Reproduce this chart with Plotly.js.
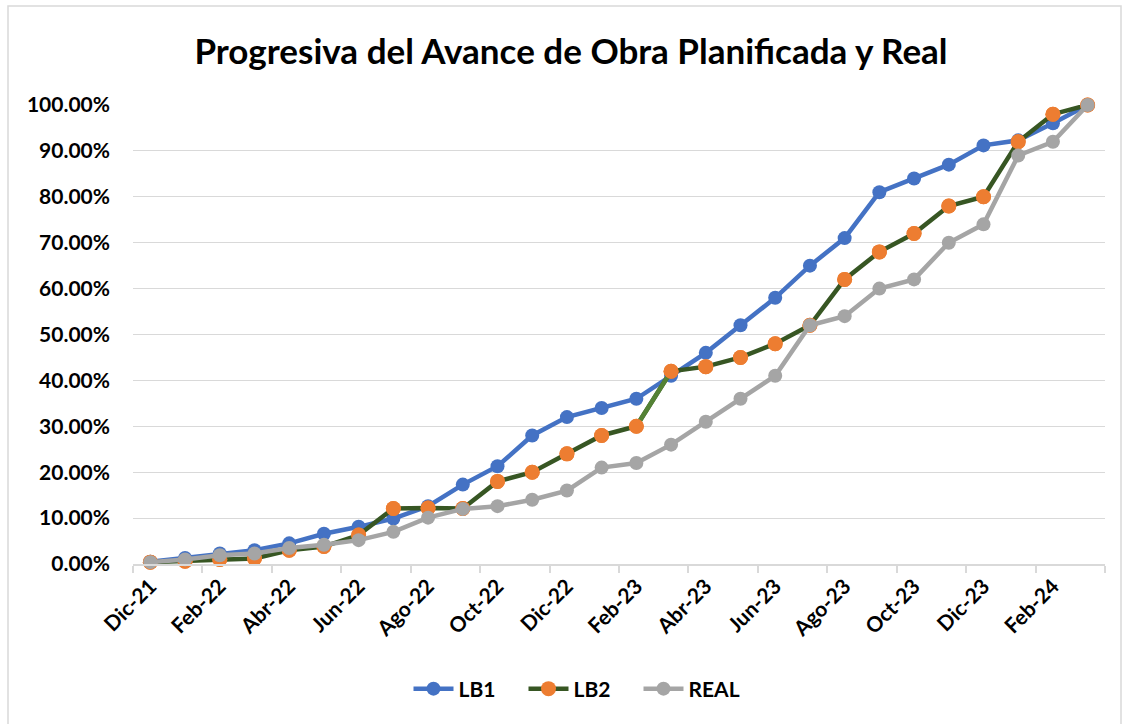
<!DOCTYPE html>
<html>
<head>
<meta charset="utf-8">
<script src="https://cdn.plot.ly/plotly-3.0.1.min.js"></script>
<style>
  html, body { margin: 0; padding: 0; background: #ffffff; }
  #chart { width: 1129px; height: 724px; }
</style>
</head>
<body>
<div id="chart"></div>
<script>
// ---- Data ----
var months = ["Dic-21","Ene-22","Feb-22","Mar-22","Abr-22","May-22","Jun-22","Jul-22","Ago-22","Sep-22","Oct-22","Nov-22",
              "Dic-22","Ene-23","Feb-23","Mar-23","Abr-23","May-23","Jun-23","Jul-23","Ago-23","Sep-23","Oct-23","Nov-23",
              "Dic-23","Ene-24","Feb-24","Mar-24"];

var lb1  = [0.005,0.013,0.023,0.030,0.045,0.066,0.081,0.099,0.126,0.173,0.213,0.280,0.320,0.340,0.360,0.410,0.460,0.520,0.580,0.650,0.710,0.810,0.840,0.870,0.912,0.923,0.960,1.000];
var lb2  = [0.004,0.006,0.010,0.012,0.030,0.038,0.063,0.121,0.122,0.121,0.180,0.200,0.240,0.280,0.300,0.420,0.430,0.450,0.480,0.520,0.620,0.680,0.720,0.780,0.800,0.920,0.980,1.000];
var real = [0.004,0.010,0.019,0.023,0.035,0.042,0.052,0.070,0.101,0.120,0.126,0.140,0.160,0.210,0.220,0.260,0.310,0.360,0.410,0.520,0.540,0.600,0.620,0.700,0.740,0.890,0.920,1.000];

var seriesNames = ["LB1", "LB2", "REAL"];
var titleText = "Progresiva del Avance de Obra Planificada y Real";

// LB2 segment that Excel drew in a lighter green (Feb-23 -> Mar-23)
var lightSegStart = 14;

// ---- Styling ----
var FONT = "Lato, 'Open Sans', sans-serif";
var cBlue = "#4472C4", cOrange = "#ED7D31", cDkGreen = "#375623", cLtGreen = "#548235", cGray = "#A5A5A5";
var grid = "#D9D9D9";

var traces = [
  {
    x: months, y: lb1, name: seriesNames[0], type: "scatter", mode: "lines+markers",
    line: { color: cBlue, width: 4.5 },
    marker: { color: cBlue, size: 14 },
    cliponaxis: false, hoverinfo: "x+y+name"
  },
  {
    x: months, y: lb2, name: seriesNames[1], type: "scatter", mode: "lines+markers",
    line: { color: cDkGreen, width: 4.5 },
    marker: { color: cOrange, size: 15 },
    cliponaxis: false, hoverinfo: "x+y+name"
  },
  {
    x: months.slice(lightSegStart, lightSegStart + 2), y: lb2.slice(lightSegStart, lightSegStart + 2),
    name: seriesNames[1], type: "scatter", mode: "lines", showlegend: false,
    line: { color: cLtGreen, width: 4.5 }, hoverinfo: "skip", cliponaxis: false
  },
  {
    x: months, y: lb2, name: seriesNames[1], type: "scatter", mode: "markers", showlegend: false,
    marker: { color: cOrange, size: 15 }, hoverinfo: "skip", cliponaxis: false
  },
  {
    x: months, y: real, name: seriesNames[2], type: "scatter", mode: "lines+markers",
    line: { color: cGray, width: 4.5 },
    marker: { color: cGray, size: 14 },
    cliponaxis: false, hoverinfo: "x+y+name"
  }
];

var L = 133, R = 24, T = 105, B = 160;
var W = 1129 - L - R, H = 724 - T - B;

var layout = {
  width: 1129, height: 724,
  paper_bgcolor: "#ffffff", plot_bgcolor: "#ffffff",
  margin: { l: L, r: R, t: T, b: B, pad: 0 },
  font: { family: FONT, color: "#000000", size: 21, weight: 700 },
  title: {
    text: "<b>" + titleText + "</b>",
    font: { family: FONT, size: 35, color: "#000000" },
    x: 571 / 1129, xref: "container", xanchor: "center",
    y: 1 - 52 / 724, yref: "container", yanchor: "middle"
  },
  showlegend: true,
  legend: {
    orientation: "h", xref: "container", x: 581 / 1129, xanchor: "center",
    yref: "container", y: 1 - 689 / 724, yanchor: "middle",
    font: { family: FONT, size: 21, color: "#000000", weight: 700 },
    itemwidth: 40, traceorder: "normal",
    entrywidth: 60, entrywidthmode: "pixels"
  },
  xaxis: {
    type: "category", categoryorder: "array", categoryarray: months,
    range: [-0.5, months.length - 0.5],
    tickmode: "linear", tick0: 0, dtick: 2, tickson: "boundaries",
    ticks: "outside", ticklen: 7, tickwidth: 1.5, tickcolor: grid,
    tickangle: -45, showgrid: false, zeroline: false,
    showline: true, linecolor: grid, linewidth: 1.5,
    tickfont: { family: FONT, size: 21, color: "#000000", weight: 700 },
    fixedrange: true
  },
  yaxis: {
    range: [0, 1], tickmode: "linear", tick0: 0, dtick: 0.1, tickformat: ".2%",
    showgrid: true, gridcolor: grid, gridwidth: 1.3, zeroline: false,
    showline: false, ticks: "", ticklabelstandoff: 22,
    tickfont: { family: FONT, size: 21, color: "#000000", weight: 700 },
    fixedrange: true
  },
  shapes: [
    { type: "rect", xref: "paper", yref: "paper",
      x0: (8 - L) / W, x1: (1121 - L) / W,
      y0: (T + H - 740) / H, y1: (T + H - 6) / H,
      line: { color: grid, width: 1.5 }, fillcolor: "rgba(0,0,0,0)", layer: "below" }
  ]
};

Plotly.newPlot("chart", traces, layout, { displayModeBar: false, responsive: false });
</script>
</body>
</html>
